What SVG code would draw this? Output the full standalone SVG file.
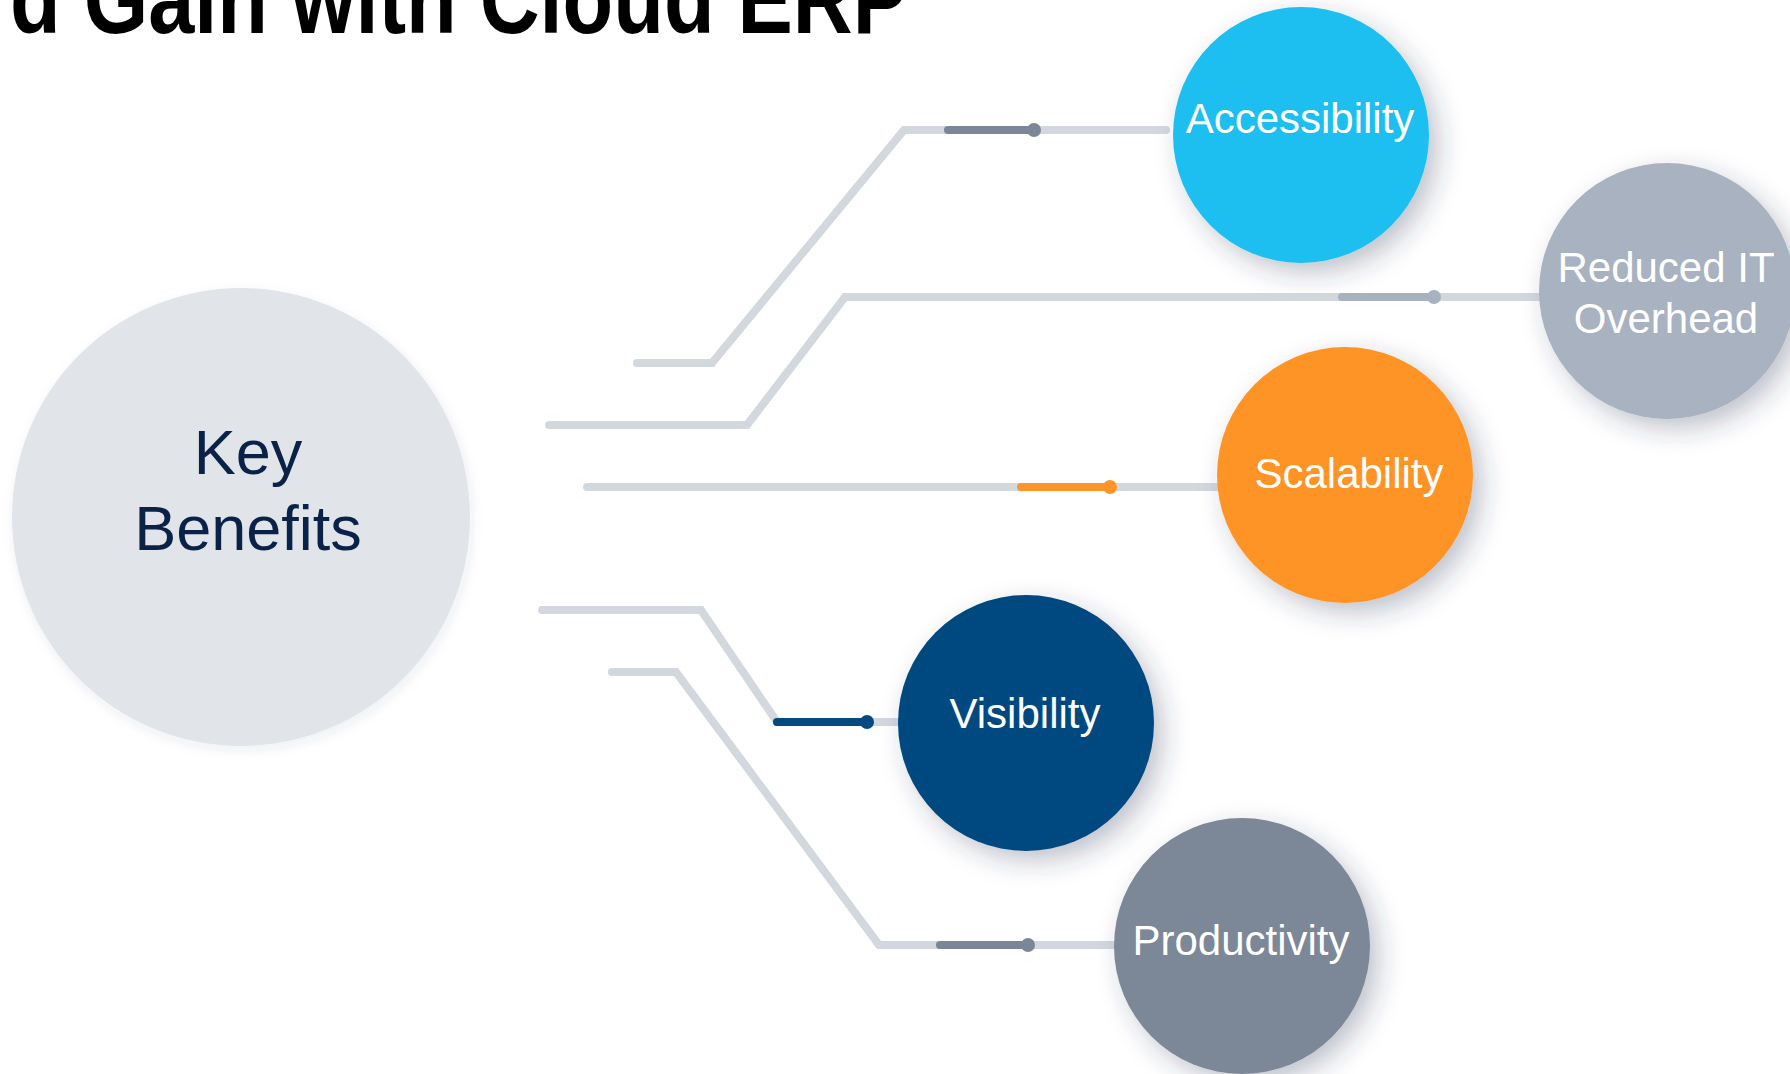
<svg xmlns="http://www.w3.org/2000/svg" width="1790" height="1074" viewBox="0 0 1790 1074">
  <defs>
    <filter id="shadow" x="-30%" y="-30%" width="170%" height="170%">
      <feDropShadow dx="9" dy="10" stdDeviation="13" flood-color="#2b3a55" flood-opacity="0.3"/>
    </filter>
    <filter id="softshadow" x="-20%" y="-20%" width="140%" height="140%">
      <feDropShadow dx="2" dy="4" stdDeviation="6" flood-color="#2b3a55" flood-opacity="0.08"/>
    </filter>
  </defs>
  <style>
    .track { fill: none; stroke: #D3D8DF; stroke-width: 8; stroke-linecap: round; stroke-linejoin: miter; }
    .hl { fill: none; stroke-width: 8; stroke-linecap: round; }
    .label { font-family: "Liberation Sans", Arial, sans-serif; font-size: 42px; fill: #FFFFFF; text-anchor: middle; }
    .hub { font-family: "Liberation Sans", Arial, sans-serif; font-size: 63px; fill: #0A2247; text-anchor: middle; }
    .title { font-family: "Liberation Sans Narrow", "Liberation Sans", Arial, sans-serif; font-weight: bold; font-size: 100px; fill: #000000; }
  </style>
  <rect width="1790" height="1074" fill="#FFFFFF"/>
  <text class="title" x="10" y="33" textLength="898" lengthAdjust="spacingAndGlyphs">d Gain with Cloud ERP</text>

  <g id="connectors">
    <polyline class="track" points="637,363 712,363 904,130 1166,130"/>
    <line class="hl" x1="948" y1="130" x2="1034" y2="130" stroke="#7B8798"/>
    <circle cx="1034" cy="130" r="7" fill="#7B8798"/>

    <polyline class="track" points="549,425 747,425 845,297 1560,297"/>
    <line class="hl" x1="1342" y1="297" x2="1434" y2="297" stroke="#A7B1BF"/>
    <circle cx="1434" cy="297" r="7" fill="#A7B1BF"/>

    <polyline class="track" points="587,487 1240,487"/>
    <line class="hl" x1="1021" y1="487" x2="1110" y2="487" stroke="#FF9428"/>
    <circle cx="1110" cy="487" r="7" fill="#FF9428"/>

    <polyline class="track" points="542,610 701,610 777,722 920,722"/>
    <line class="hl" x1="777" y1="722" x2="867" y2="722" stroke="#034A80"/>
    <circle cx="867" cy="722" r="7" fill="#034A80"/>

    <polyline class="track" points="612,672 676,672 879,945 1140,945"/>
    <line class="hl" x1="940" y1="945" x2="1028" y2="945" stroke="#7B8798"/>
    <circle cx="1028" cy="945" r="7" fill="#7B8798"/>
  </g>

  <g id="node-key-benefits">
    <circle cx="241" cy="517" r="229" fill="#E1E4E9" filter="url(#softshadow)"/>
    <text class="hub" x="248" y="474">Key</text>
    <text class="hub" x="248" y="550">Benefits</text>
  </g>

  <g id="node-accessibility">
    <circle cx="1301" cy="135" r="128" fill="#1BBFF0" filter="url(#shadow)"/>
    <text class="label" x="1300" y="133">Accessibility</text>
  </g>

  <g id="node-reduced-it">
    <circle cx="1667" cy="291" r="128" fill="#A8B2C0" filter="url(#shadow)"/>
    <text class="label" x="1666" y="282">Reduced IT</text>
    <text class="label" x="1666" y="333">Overhead</text>
  </g>

  <g id="node-scalability">
    <circle cx="1345" cy="475" r="128" fill="#FF9428" filter="url(#shadow)"/>
    <text class="label" x="1349" y="488">Scalability</text>
  </g>

  <g id="node-visibility">
    <circle cx="1026" cy="723" r="128" fill="#034A80" filter="url(#shadow)"/>
    <text class="label" x="1025" y="728">Visibility</text>
  </g>

  <g id="node-productivity">
    <circle cx="1242" cy="946" r="128" fill="#7B8798" filter="url(#shadow)"/>
    <text class="label" x="1241" y="955">Productivity</text>
  </g>
</svg>
